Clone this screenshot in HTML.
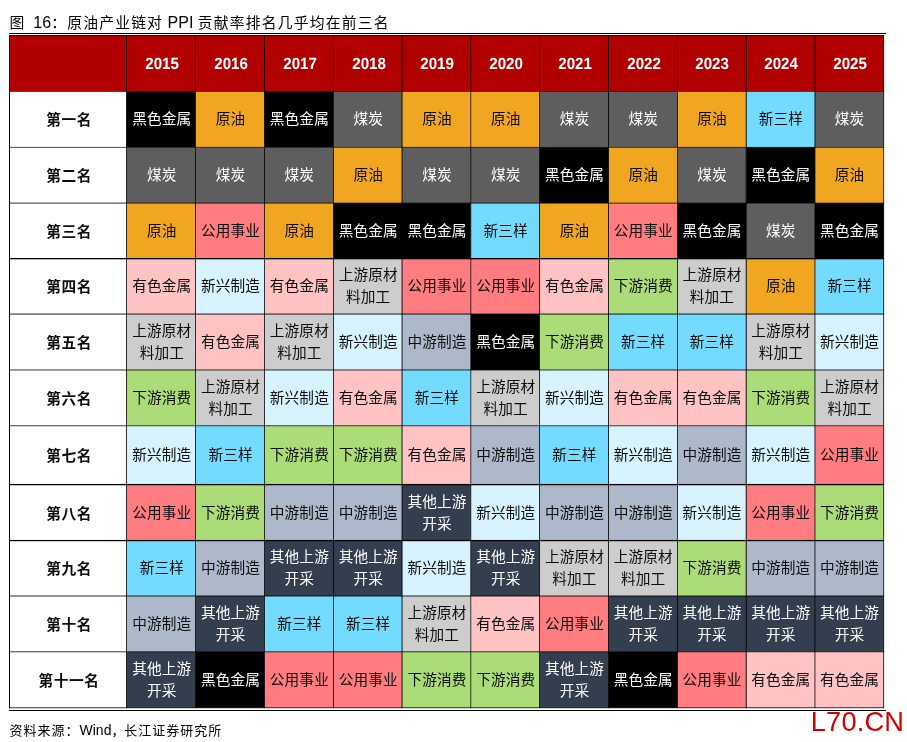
<!DOCTYPE html>
<html lang="zh-CN">
<head>
<meta charset="utf-8">
<title>图 16：原油产业链对 PPI 贡献率排名几乎均在前三名</title>
<style>
html,body{margin:0;padding:0;background:#fff;}
body{width:907px;height:742px;position:relative;overflow:hidden;font-family:"Liberation Sans","Noto Sans CJK SC",sans-serif;}
.title{position:absolute;left:9.6px;top:12px;font-size:16px;line-height:22px;color:#000;white-space:pre;}
.title .z{font-size:14.8px;letter-spacing:1.2px;}
.title .t1{margin-right:3.3px;}
.rule{position:absolute;left:9px;width:877px;height:1px;background:#000;}
.src{position:absolute;left:9.5px;top:720px;font-size:14px;line-height:20px;color:#000;white-space:pre;}
.src .z{font-size:13px;letter-spacing:1px;}
.wm{position:absolute;left:810.8px;top:706.6px;font-size:27.2px;line-height:30px;letter-spacing:0.2px;color:#d40000;white-space:nowrap;}
.grid{position:absolute;left:0;top:0;}
.c{position:absolute;display:flex;align-items:center;justify-content:center;text-align:center;
   font-size:14.67px;line-height:21px;color:#0d0d0d;white-space:nowrap;letter-spacing:0.1px;}
.h{color:#fff;font-weight:bold;font-size:16.3px;letter-spacing:0;text-rendering:geometricPrecision;}
.h span{display:inline-block;transform:scaleX(0.93);position:relative;top:1px;left:0.6px;}
.r{font-weight:bold;letter-spacing:0.6px;}
.t2{line-height:22px;}
.k,.g,.n{color:#fff;}
</style>
</head>
<body>
<div class="title"><span class="z t1">图</span> 16<span class="z">：原油产业链对</span> PPI <span class="z">贡献率排名几乎均在前三名</span></div>
<div class="rule" style="top:33px"></div>

<svg class="grid" width="907" height="742" viewBox="0 0 907 742">
<rect x="9.5" y="35.5" width="874.2" height="55.97" fill="#b00000"/>
<rect x="9.5" y="91.47" width="117" height="55.79" fill="#ffffff"/>
<rect x="126.5" y="91.47" width="69" height="55.79" fill="#000000"/>
<rect x="195.5" y="91.47" width="69" height="55.79" fill="#f0a620"/>
<rect x="264.5" y="91.47" width="69" height="55.79" fill="#000000"/>
<rect x="333.5" y="91.47" width="68.55" height="55.79" fill="#5e5e5e"/>
<rect x="402.05" y="91.47" width="137.56" height="55.79" fill="#f0a620"/>
<rect x="539.61" y="91.47" width="137.89" height="55.79" fill="#5e5e5e"/>
<rect x="677.5" y="91.47" width="68.73" height="55.79" fill="#f0a620"/>
<rect x="746.23" y="91.47" width="68.73" height="55.79" fill="#73dbff"/>
<rect x="814.95" y="91.47" width="68.75" height="55.79" fill="#5e5e5e"/>
<rect x="9.5" y="147.27" width="117" height="55.83" fill="#ffffff"/>
<rect x="126.5" y="147.27" width="207" height="55.83" fill="#5e5e5e"/>
<rect x="333.5" y="147.27" width="68.55" height="55.83" fill="#f0a620"/>
<rect x="402.05" y="147.27" width="137.56" height="55.83" fill="#5e5e5e"/>
<rect x="539.61" y="147.27" width="68.92" height="55.83" fill="#000000"/>
<rect x="608.53" y="147.27" width="68.97" height="55.83" fill="#f0a620"/>
<rect x="677.5" y="147.27" width="68.73" height="55.83" fill="#5e5e5e"/>
<rect x="746.23" y="147.27" width="68.73" height="55.83" fill="#000000"/>
<rect x="814.95" y="147.27" width="68.75" height="55.83" fill="#f0a620"/>
<rect x="9.5" y="203.1" width="117" height="55.55" fill="#ffffff"/>
<rect x="126.5" y="203.1" width="69" height="55.55" fill="#f0a620"/>
<rect x="195.5" y="203.1" width="69" height="55.55" fill="#ff7c80"/>
<rect x="264.5" y="203.1" width="69" height="55.55" fill="#f0a620"/>
<rect x="333.5" y="203.1" width="137.32" height="55.55" fill="#000000"/>
<rect x="470.82" y="203.1" width="68.79" height="55.55" fill="#73dbff"/>
<rect x="539.61" y="203.1" width="68.92" height="55.55" fill="#f0a620"/>
<rect x="608.53" y="203.1" width="68.97" height="55.55" fill="#ff7c80"/>
<rect x="677.5" y="203.1" width="68.73" height="55.55" fill="#000000"/>
<rect x="746.23" y="203.1" width="68.73" height="55.55" fill="#5e5e5e"/>
<rect x="814.95" y="203.1" width="68.75" height="55.55" fill="#000000"/>
<rect x="9.5" y="258.65" width="117" height="55.4" fill="#ffffff"/>
<rect x="126.5" y="258.65" width="69" height="55.4" fill="#ffc3c3"/>
<rect x="195.5" y="258.65" width="69" height="55.4" fill="#d6f3ff"/>
<rect x="264.5" y="258.65" width="69" height="55.4" fill="#ffc3c3"/>
<rect x="333.5" y="258.65" width="68.55" height="55.4" fill="#cdcdcd"/>
<rect x="402.05" y="258.65" width="137.56" height="55.4" fill="#ff7c80"/>
<rect x="539.61" y="258.65" width="68.92" height="55.4" fill="#ffc3c3"/>
<rect x="608.53" y="258.65" width="68.97" height="55.4" fill="#acdc78"/>
<rect x="677.5" y="258.65" width="68.73" height="55.4" fill="#cdcdcd"/>
<rect x="746.23" y="258.65" width="68.73" height="55.4" fill="#f0a620"/>
<rect x="814.95" y="258.65" width="68.75" height="55.4" fill="#73dbff"/>
<rect x="9.5" y="314.05" width="117" height="55.92" fill="#ffffff"/>
<rect x="126.5" y="314.05" width="69" height="55.92" fill="#cdcdcd"/>
<rect x="195.5" y="314.05" width="69" height="55.92" fill="#ffc3c3"/>
<rect x="264.5" y="314.05" width="69" height="55.92" fill="#cdcdcd"/>
<rect x="333.5" y="314.05" width="68.55" height="55.92" fill="#d6f3ff"/>
<rect x="402.05" y="314.05" width="68.77" height="55.92" fill="#adb9ca"/>
<rect x="470.82" y="314.05" width="68.79" height="55.92" fill="#000000"/>
<rect x="539.61" y="314.05" width="68.92" height="55.92" fill="#acdc78"/>
<rect x="608.53" y="314.05" width="137.7" height="55.92" fill="#73dbff"/>
<rect x="746.23" y="314.05" width="68.73" height="55.92" fill="#cdcdcd"/>
<rect x="814.95" y="314.05" width="68.75" height="55.92" fill="#d6f3ff"/>
<rect x="9.5" y="369.97" width="117" height="55.84" fill="#ffffff"/>
<rect x="126.5" y="369.97" width="69" height="55.84" fill="#acdc78"/>
<rect x="195.5" y="369.97" width="69" height="55.84" fill="#cdcdcd"/>
<rect x="264.5" y="369.97" width="69" height="55.84" fill="#d6f3ff"/>
<rect x="333.5" y="369.97" width="68.55" height="55.84" fill="#ffc3c3"/>
<rect x="402.05" y="369.97" width="68.77" height="55.84" fill="#73dbff"/>
<rect x="470.82" y="369.97" width="68.79" height="55.84" fill="#cdcdcd"/>
<rect x="539.61" y="369.97" width="68.92" height="55.84" fill="#d6f3ff"/>
<rect x="608.53" y="369.97" width="137.7" height="55.84" fill="#ffc3c3"/>
<rect x="746.23" y="369.97" width="68.73" height="55.84" fill="#acdc78"/>
<rect x="814.95" y="369.97" width="68.75" height="55.84" fill="#cdcdcd"/>
<rect x="9.5" y="425.81" width="117" height="58.79" fill="#ffffff"/>
<rect x="126.5" y="425.81" width="69" height="58.79" fill="#d6f3ff"/>
<rect x="195.5" y="425.81" width="69" height="58.79" fill="#73dbff"/>
<rect x="264.5" y="425.81" width="137.55" height="58.79" fill="#acdc78"/>
<rect x="402.05" y="425.81" width="68.77" height="58.79" fill="#ffc3c3"/>
<rect x="470.82" y="425.81" width="68.79" height="58.79" fill="#adb9ca"/>
<rect x="539.61" y="425.81" width="68.92" height="58.79" fill="#73dbff"/>
<rect x="608.53" y="425.81" width="68.97" height="58.79" fill="#d6f3ff"/>
<rect x="677.5" y="425.81" width="68.73" height="58.79" fill="#adb9ca"/>
<rect x="746.23" y="425.81" width="68.73" height="58.79" fill="#d6f3ff"/>
<rect x="814.95" y="425.81" width="68.75" height="58.79" fill="#ff7c80"/>
<rect x="9.5" y="484.6" width="117" height="55.98" fill="#ffffff"/>
<rect x="126.5" y="484.6" width="69" height="55.98" fill="#ff7c80"/>
<rect x="195.5" y="484.6" width="69" height="55.98" fill="#acdc78"/>
<rect x="264.5" y="484.6" width="137.55" height="55.98" fill="#adb9ca"/>
<rect x="402.05" y="484.6" width="68.77" height="55.98" fill="#333e4e"/>
<rect x="470.82" y="484.6" width="68.79" height="55.98" fill="#d6f3ff"/>
<rect x="539.61" y="484.6" width="137.89" height="55.98" fill="#adb9ca"/>
<rect x="677.5" y="484.6" width="68.73" height="55.98" fill="#d6f3ff"/>
<rect x="746.23" y="484.6" width="68.73" height="55.98" fill="#ff7c80"/>
<rect x="814.95" y="484.6" width="68.75" height="55.98" fill="#acdc78"/>
<rect x="9.5" y="540.58" width="117" height="55.42" fill="#ffffff"/>
<rect x="126.5" y="540.58" width="69" height="55.42" fill="#73dbff"/>
<rect x="195.5" y="540.58" width="69" height="55.42" fill="#adb9ca"/>
<rect x="264.5" y="540.58" width="137.55" height="55.42" fill="#333e4e"/>
<rect x="402.05" y="540.58" width="68.77" height="55.42" fill="#d6f3ff"/>
<rect x="470.82" y="540.58" width="68.79" height="55.42" fill="#333e4e"/>
<rect x="539.61" y="540.58" width="137.89" height="55.42" fill="#cdcdcd"/>
<rect x="677.5" y="540.58" width="68.73" height="55.42" fill="#acdc78"/>
<rect x="746.23" y="540.58" width="137.48" height="55.42" fill="#adb9ca"/>
<rect x="9.5" y="596" width="117" height="55.83" fill="#ffffff"/>
<rect x="126.5" y="596" width="69" height="55.83" fill="#adb9ca"/>
<rect x="195.5" y="596" width="69" height="55.83" fill="#333e4e"/>
<rect x="264.5" y="596" width="137.55" height="55.83" fill="#73dbff"/>
<rect x="402.05" y="596" width="68.77" height="55.83" fill="#cdcdcd"/>
<rect x="470.82" y="596" width="68.79" height="55.83" fill="#ffc3c3"/>
<rect x="539.61" y="596" width="68.92" height="55.83" fill="#ff7c80"/>
<rect x="608.53" y="596" width="275.17" height="55.83" fill="#333e4e"/>
<rect x="9.5" y="651.83" width="117" height="55.95" fill="#ffffff"/>
<rect x="126.5" y="651.83" width="69" height="55.95" fill="#333e4e"/>
<rect x="195.5" y="651.83" width="69" height="55.95" fill="#000000"/>
<rect x="264.5" y="651.83" width="137.55" height="55.95" fill="#ff7c80"/>
<rect x="402.05" y="651.83" width="137.56" height="55.95" fill="#acdc78"/>
<rect x="539.61" y="651.83" width="68.92" height="55.95" fill="#333e4e"/>
<rect x="608.53" y="651.83" width="68.97" height="55.95" fill="#000000"/>
<rect x="677.5" y="651.83" width="68.73" height="55.95" fill="#ff7c80"/>
<rect x="746.23" y="651.83" width="137.48" height="55.95" fill="#ffc3c3"/>
<g fill="#000">
<rect x="9" y="35.05" width="875.1" height="0.9"/>
<rect x="9" y="91.15" width="875.1" height="0.65"/>
<rect x="9" y="146.92" width="875.1" height="0.7"/>
<rect x="9" y="202.7" width="875.1" height="0.8"/>
<rect x="9" y="258" width="875.1" height="1.3"/>
<rect x="9" y="313.6" width="875.1" height="0.9"/>
<rect x="9" y="369.57" width="875.1" height="0.8"/>
<rect x="9" y="425.44" width="875.1" height="0.74"/>
<rect x="9" y="483.95" width="875.1" height="1.3"/>
<rect x="9" y="539.95" width="875.1" height="1.25"/>
<rect x="9" y="595.58" width="875.1" height="0.84"/>
<rect x="9" y="651.44" width="875.1" height="0.78"/>
<rect x="9" y="707.38" width="875.1" height="0.8"/>
<rect x="9" y="35.05" width="1" height="673.13"/>
<rect x="126.1" y="35.05" width="0.8" height="673.13"/>
<rect x="195.1" y="35.05" width="0.8" height="673.13"/>
<rect x="264.1" y="35.05" width="0.8" height="673.13"/>
<rect x="333.1" y="35.05" width="0.8" height="673.13"/>
<rect x="401.6" y="35.05" width="0.9" height="673.13"/>
<rect x="470.45" y="35.05" width="0.75" height="673.13"/>
<rect x="539.2" y="35.05" width="0.82" height="673.13"/>
<rect x="608.1" y="35.05" width="0.85" height="673.13"/>
<rect x="677.1" y="35.05" width="0.8" height="673.13"/>
<rect x="745.75" y="35.05" width="0.95" height="673.13"/>
<rect x="814.55" y="35.05" width="0.8" height="673.13"/>
<rect x="883.3" y="35.05" width="0.8" height="673.13"/>
</g></svg>
<div class="cells">
<div class="c h" style="left:121.85px;top:36px;width:80px;height:55.97px"><span>2015</span></div>
<div class="c h" style="left:190.62px;top:36px;width:80px;height:55.97px"><span>2016</span></div>
<div class="c h" style="left:259.39px;top:36px;width:80px;height:55.97px"><span>2017</span></div>
<div class="c h" style="left:328.16px;top:36px;width:80px;height:55.97px"><span>2018</span></div>
<div class="c h" style="left:396.93px;top:36px;width:80px;height:55.97px"><span>2019</span></div>
<div class="c h" style="left:465.7px;top:36px;width:80px;height:55.97px"><span>2020</span></div>
<div class="c h" style="left:534.47px;top:36px;width:80px;height:55.97px"><span>2021</span></div>
<div class="c h" style="left:603.24px;top:36px;width:80px;height:55.97px"><span>2022</span></div>
<div class="c h" style="left:672.01px;top:36px;width:80px;height:55.97px"><span>2023</span></div>
<div class="c h" style="left:740.78px;top:36px;width:80px;height:55.97px"><span>2024</span></div>
<div class="c h" style="left:809.55px;top:36px;width:80px;height:55.97px"><span>2025</span></div>
<div class="c r" style="left:11.1px;top:92.97px;width:116px;height:55.79px">第一名</div>
<div class="c k" style="left:121.85px;top:91.97px;width:80px;height:55.79px">黑色金属</div>
<div class="c o" style="left:190.62px;top:91.97px;width:80px;height:55.79px">原油</div>
<div class="c k" style="left:259.39px;top:91.97px;width:80px;height:55.79px">黑色金属</div>
<div class="c g" style="left:328.16px;top:91.97px;width:80px;height:55.79px">煤炭</div>
<div class="c o" style="left:396.93px;top:91.97px;width:80px;height:55.79px">原油</div>
<div class="c o" style="left:465.7px;top:91.97px;width:80px;height:55.79px">原油</div>
<div class="c g" style="left:534.47px;top:91.97px;width:80px;height:55.79px">煤炭</div>
<div class="c g" style="left:603.24px;top:91.97px;width:80px;height:55.79px">煤炭</div>
<div class="c o" style="left:672.01px;top:91.97px;width:80px;height:55.79px">原油</div>
<div class="c b" style="left:740.78px;top:91.97px;width:80px;height:55.79px">新三样</div>
<div class="c g" style="left:809.55px;top:91.97px;width:80px;height:55.79px">煤炭</div>
<div class="c r" style="left:11.1px;top:148.77px;width:116px;height:55.83px">第二名</div>
<div class="c g" style="left:121.85px;top:147.77px;width:80px;height:55.83px">煤炭</div>
<div class="c g" style="left:190.62px;top:147.77px;width:80px;height:55.83px">煤炭</div>
<div class="c g" style="left:259.39px;top:147.77px;width:80px;height:55.83px">煤炭</div>
<div class="c o" style="left:328.16px;top:147.77px;width:80px;height:55.83px">原油</div>
<div class="c g" style="left:396.93px;top:147.77px;width:80px;height:55.83px">煤炭</div>
<div class="c g" style="left:465.7px;top:147.77px;width:80px;height:55.83px">煤炭</div>
<div class="c k" style="left:534.47px;top:147.77px;width:80px;height:55.83px">黑色金属</div>
<div class="c o" style="left:603.24px;top:147.77px;width:80px;height:55.83px">原油</div>
<div class="c g" style="left:672.01px;top:147.77px;width:80px;height:55.83px">煤炭</div>
<div class="c k" style="left:740.78px;top:147.77px;width:80px;height:55.83px">黑色金属</div>
<div class="c o" style="left:809.55px;top:147.77px;width:80px;height:55.83px">原油</div>
<div class="c r" style="left:11.1px;top:204.6px;width:116px;height:55.55px">第三名</div>
<div class="c o" style="left:121.85px;top:203.6px;width:80px;height:55.55px">原油</div>
<div class="c u" style="left:190.62px;top:203.6px;width:80px;height:55.55px">公用事业</div>
<div class="c o" style="left:259.39px;top:203.6px;width:80px;height:55.55px">原油</div>
<div class="c k" style="left:328.16px;top:203.6px;width:80px;height:55.55px">黑色金属</div>
<div class="c k" style="left:396.93px;top:203.6px;width:80px;height:55.55px">黑色金属</div>
<div class="c b" style="left:465.7px;top:203.6px;width:80px;height:55.55px">新三样</div>
<div class="c o" style="left:534.47px;top:203.6px;width:80px;height:55.55px">原油</div>
<div class="c u" style="left:603.24px;top:203.6px;width:80px;height:55.55px">公用事业</div>
<div class="c k" style="left:672.01px;top:203.6px;width:80px;height:55.55px">黑色金属</div>
<div class="c g" style="left:740.78px;top:203.6px;width:80px;height:55.55px">煤炭</div>
<div class="c k" style="left:809.55px;top:203.6px;width:80px;height:55.55px">黑色金属</div>
<div class="c r" style="left:11.1px;top:260.15px;width:116px;height:55.4px">第四名</div>
<div class="c p" style="left:121.85px;top:259.15px;width:80px;height:55.4px">有色金属</div>
<div class="c x" style="left:190.62px;top:259.15px;width:80px;height:55.4px">新兴制造</div>
<div class="c p" style="left:259.39px;top:259.15px;width:80px;height:55.4px">有色金属</div>
<div class="c s t2" style="left:328.16px;top:258.65px;width:80px;height:55.4px">上游原材<br>料加工</div>
<div class="c u" style="left:396.93px;top:259.15px;width:80px;height:55.4px">公用事业</div>
<div class="c u" style="left:465.7px;top:259.15px;width:80px;height:55.4px">公用事业</div>
<div class="c p" style="left:534.47px;top:259.15px;width:80px;height:55.4px">有色金属</div>
<div class="c d" style="left:603.24px;top:259.15px;width:80px;height:55.4px">下游消费</div>
<div class="c s t2" style="left:672.01px;top:258.65px;width:80px;height:55.4px">上游原材<br>料加工</div>
<div class="c o" style="left:740.78px;top:259.15px;width:80px;height:55.4px">原油</div>
<div class="c b" style="left:809.55px;top:259.15px;width:80px;height:55.4px">新三样</div>
<div class="c r" style="left:11.1px;top:315.55px;width:116px;height:55.92px">第五名</div>
<div class="c s t2" style="left:121.85px;top:314.05px;width:80px;height:55.92px">上游原材<br>料加工</div>
<div class="c p" style="left:190.62px;top:314.55px;width:80px;height:55.92px">有色金属</div>
<div class="c s t2" style="left:259.39px;top:314.05px;width:80px;height:55.92px">上游原材<br>料加工</div>
<div class="c x" style="left:328.16px;top:314.55px;width:80px;height:55.92px">新兴制造</div>
<div class="c m" style="left:396.93px;top:314.55px;width:80px;height:55.92px">中游制造</div>
<div class="c k" style="left:465.7px;top:314.55px;width:80px;height:55.92px">黑色金属</div>
<div class="c d" style="left:534.47px;top:314.55px;width:80px;height:55.92px">下游消费</div>
<div class="c b" style="left:603.24px;top:314.55px;width:80px;height:55.92px">新三样</div>
<div class="c b" style="left:672.01px;top:314.55px;width:80px;height:55.92px">新三样</div>
<div class="c s t2" style="left:740.78px;top:314.05px;width:80px;height:55.92px">上游原材<br>料加工</div>
<div class="c x" style="left:809.55px;top:314.55px;width:80px;height:55.92px">新兴制造</div>
<div class="c r" style="left:11.1px;top:371.47px;width:116px;height:55.84px">第六名</div>
<div class="c d" style="left:121.85px;top:370.47px;width:80px;height:55.84px">下游消费</div>
<div class="c s t2" style="left:190.62px;top:369.97px;width:80px;height:55.84px">上游原材<br>料加工</div>
<div class="c x" style="left:259.39px;top:370.47px;width:80px;height:55.84px">新兴制造</div>
<div class="c p" style="left:328.16px;top:370.47px;width:80px;height:55.84px">有色金属</div>
<div class="c b" style="left:396.93px;top:370.47px;width:80px;height:55.84px">新三样</div>
<div class="c s t2" style="left:465.7px;top:369.97px;width:80px;height:55.84px">上游原材<br>料加工</div>
<div class="c x" style="left:534.47px;top:370.47px;width:80px;height:55.84px">新兴制造</div>
<div class="c p" style="left:603.24px;top:370.47px;width:80px;height:55.84px">有色金属</div>
<div class="c p" style="left:672.01px;top:370.47px;width:80px;height:55.84px">有色金属</div>
<div class="c d" style="left:740.78px;top:370.47px;width:80px;height:55.84px">下游消费</div>
<div class="c s t2" style="left:809.55px;top:369.97px;width:80px;height:55.84px">上游原材<br>料加工</div>
<div class="c r" style="left:11.1px;top:427.31px;width:116px;height:58.79px">第七名</div>
<div class="c x" style="left:121.85px;top:426.31px;width:80px;height:58.79px">新兴制造</div>
<div class="c b" style="left:190.62px;top:426.31px;width:80px;height:58.79px">新三样</div>
<div class="c d" style="left:259.39px;top:426.31px;width:80px;height:58.79px">下游消费</div>
<div class="c d" style="left:328.16px;top:426.31px;width:80px;height:58.79px">下游消费</div>
<div class="c p" style="left:396.93px;top:426.31px;width:80px;height:58.79px">有色金属</div>
<div class="c m" style="left:465.7px;top:426.31px;width:80px;height:58.79px">中游制造</div>
<div class="c b" style="left:534.47px;top:426.31px;width:80px;height:58.79px">新三样</div>
<div class="c x" style="left:603.24px;top:426.31px;width:80px;height:58.79px">新兴制造</div>
<div class="c m" style="left:672.01px;top:426.31px;width:80px;height:58.79px">中游制造</div>
<div class="c x" style="left:740.78px;top:426.31px;width:80px;height:58.79px">新兴制造</div>
<div class="c u" style="left:809.55px;top:426.31px;width:80px;height:58.79px">公用事业</div>
<div class="c r" style="left:11.1px;top:486.1px;width:116px;height:55.98px">第八名</div>
<div class="c u" style="left:121.85px;top:485.1px;width:80px;height:55.98px">公用事业</div>
<div class="c d" style="left:190.62px;top:485.1px;width:80px;height:55.98px">下游消费</div>
<div class="c m" style="left:259.39px;top:485.1px;width:80px;height:55.98px">中游制造</div>
<div class="c m" style="left:328.16px;top:485.1px;width:80px;height:55.98px">中游制造</div>
<div class="c n t2" style="left:396.93px;top:484.6px;width:80px;height:55.98px">其他上游<br>开采</div>
<div class="c x" style="left:465.7px;top:485.1px;width:80px;height:55.98px">新兴制造</div>
<div class="c m" style="left:534.47px;top:485.1px;width:80px;height:55.98px">中游制造</div>
<div class="c m" style="left:603.24px;top:485.1px;width:80px;height:55.98px">中游制造</div>
<div class="c x" style="left:672.01px;top:485.1px;width:80px;height:55.98px">新兴制造</div>
<div class="c u" style="left:740.78px;top:485.1px;width:80px;height:55.98px">公用事业</div>
<div class="c d" style="left:809.55px;top:485.1px;width:80px;height:55.98px">下游消费</div>
<div class="c r" style="left:11.1px;top:542.08px;width:116px;height:55.42px">第九名</div>
<div class="c b" style="left:121.85px;top:541.08px;width:80px;height:55.42px">新三样</div>
<div class="c m" style="left:190.62px;top:541.08px;width:80px;height:55.42px">中游制造</div>
<div class="c n t2" style="left:259.39px;top:540.58px;width:80px;height:55.42px">其他上游<br>开采</div>
<div class="c n t2" style="left:328.16px;top:540.58px;width:80px;height:55.42px">其他上游<br>开采</div>
<div class="c x" style="left:396.93px;top:541.08px;width:80px;height:55.42px">新兴制造</div>
<div class="c n t2" style="left:465.7px;top:540.58px;width:80px;height:55.42px">其他上游<br>开采</div>
<div class="c s t2" style="left:534.47px;top:540.58px;width:80px;height:55.42px">上游原材<br>料加工</div>
<div class="c s t2" style="left:603.24px;top:540.58px;width:80px;height:55.42px">上游原材<br>料加工</div>
<div class="c d" style="left:672.01px;top:541.08px;width:80px;height:55.42px">下游消费</div>
<div class="c m" style="left:740.78px;top:541.08px;width:80px;height:55.42px">中游制造</div>
<div class="c m" style="left:809.55px;top:541.08px;width:80px;height:55.42px">中游制造</div>
<div class="c r" style="left:11.1px;top:597.5px;width:116px;height:55.83px">第十名</div>
<div class="c m" style="left:121.85px;top:596.5px;width:80px;height:55.83px">中游制造</div>
<div class="c n t2" style="left:190.62px;top:596px;width:80px;height:55.83px">其他上游<br>开采</div>
<div class="c b" style="left:259.39px;top:596.5px;width:80px;height:55.83px">新三样</div>
<div class="c b" style="left:328.16px;top:596.5px;width:80px;height:55.83px">新三样</div>
<div class="c s t2" style="left:396.93px;top:596px;width:80px;height:55.83px">上游原材<br>料加工</div>
<div class="c p" style="left:465.7px;top:596.5px;width:80px;height:55.83px">有色金属</div>
<div class="c u" style="left:534.47px;top:596.5px;width:80px;height:55.83px">公用事业</div>
<div class="c n t2" style="left:603.24px;top:596px;width:80px;height:55.83px">其他上游<br>开采</div>
<div class="c n t2" style="left:672.01px;top:596px;width:80px;height:55.83px">其他上游<br>开采</div>
<div class="c n t2" style="left:740.78px;top:596px;width:80px;height:55.83px">其他上游<br>开采</div>
<div class="c n t2" style="left:809.55px;top:596px;width:80px;height:55.83px">其他上游<br>开采</div>
<div class="c r" style="left:11.1px;top:653.33px;width:116px;height:55.95px">第十一名</div>
<div class="c n t2" style="left:121.85px;top:651.83px;width:80px;height:55.95px">其他上游<br>开采</div>
<div class="c k" style="left:190.62px;top:652.33px;width:80px;height:55.95px">黑色金属</div>
<div class="c u" style="left:259.39px;top:652.33px;width:80px;height:55.95px">公用事业</div>
<div class="c u" style="left:328.16px;top:652.33px;width:80px;height:55.95px">公用事业</div>
<div class="c d" style="left:396.93px;top:652.33px;width:80px;height:55.95px">下游消费</div>
<div class="c d" style="left:465.7px;top:652.33px;width:80px;height:55.95px">下游消费</div>
<div class="c n t2" style="left:534.47px;top:651.83px;width:80px;height:55.95px">其他上游<br>开采</div>
<div class="c k" style="left:603.24px;top:652.33px;width:80px;height:55.95px">黑色金属</div>
<div class="c u" style="left:672.01px;top:652.33px;width:80px;height:55.95px">公用事业</div>
<div class="c p" style="left:740.78px;top:652.33px;width:80px;height:55.95px">有色金属</div>
<div class="c p" style="left:809.55px;top:652.33px;width:80px;height:55.95px">有色金属</div>
</div>
<div class="rule" style="top:710px"></div>
<div class="src"><span class="z">资料来源：</span>Wind<span class="z">，</span><span class="z" style="margin-left:-1.2px">长江证券研究所</span></div>
<div class="wm">L70.CN</div>
</body></html>
